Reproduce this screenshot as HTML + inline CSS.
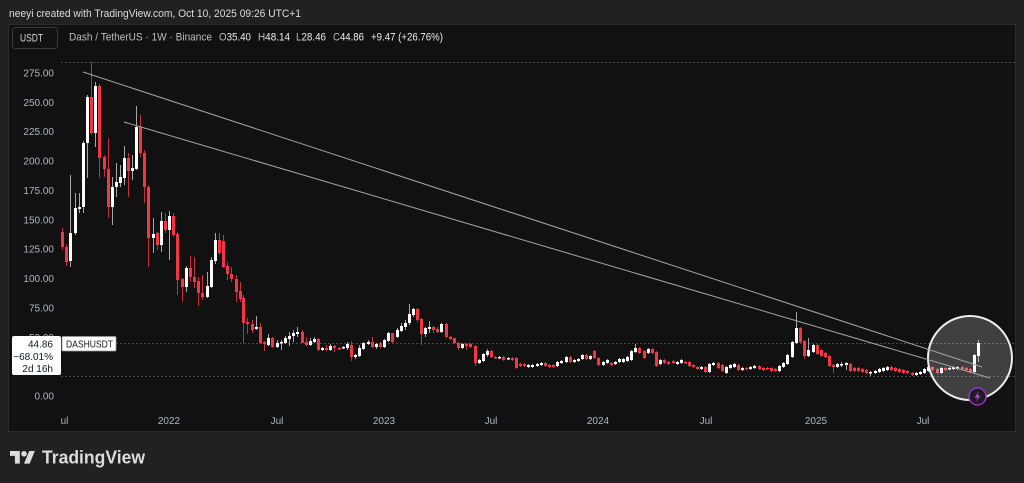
<!DOCTYPE html>
<html><head><meta charset="utf-8"><style>
html,body{margin:0;padding:0;background:#212121;width:1024px;height:483px;overflow:hidden}
svg{display:block;font-family:"Liberation Sans",Arial,sans-serif}
</style></head><body>
<svg width="1024" height="483" viewBox="0 0 1024 483" xmlns="http://www.w3.org/2000/svg">
<defs><clipPath id="ca"><rect x="61" y="25" width="954" height="406"/></clipPath></defs>
<rect x="0" y="0" width="1024" height="483" fill="#212121"/>
<text x="9" y="17" font-size="11" fill="#dcdcdc" textLength="292" lengthAdjust="spacingAndGlyphs">neeyi created with TradingView.com, Oct 10, 2025 09:26 UTC+1</text>
<rect x="8.5" y="24.5" width="1007" height="407" fill="#111111" stroke="#2b2b2b"/>
<rect x="12.5" y="27.5" width="45" height="21" rx="3" fill="none" stroke="#3a3a3a"/>
<text x="20" y="41.5" font-size="11" fill="#d8d8d8" textLength="23" lengthAdjust="spacingAndGlyphs">USDT</text>
<text x="69" y="40.5" font-size="11" fill="#bdbdbd" textLength="143" lengthAdjust="spacingAndGlyphs">Dash / TetherUS · 1W · Binance</text>
<text x="219" y="40.5" font-size="11" fill="#ececec" textLength="32" lengthAdjust="spacingAndGlyphs"><tspan fill="#bdbdbd">O</tspan>35.40</text>
<text x="258" y="40.5" font-size="11" fill="#ececec" textLength="32" lengthAdjust="spacingAndGlyphs"><tspan fill="#bdbdbd">H</tspan>48.14</text>
<text x="296" y="40.5" font-size="11" fill="#ececec" textLength="30" lengthAdjust="spacingAndGlyphs"><tspan fill="#bdbdbd">L</tspan>28.46</text>
<text x="333" y="40.5" font-size="11" fill="#ececec" textLength="31" lengthAdjust="spacingAndGlyphs"><tspan fill="#bdbdbd">C</tspan>44.86</text>
<text x="371" y="40.5" font-size="11" fill="#ececec" textLength="72" lengthAdjust="spacingAndGlyphs">+9.47 (+26.76%)</text>

<!-- y axis labels -->
<g font-size="10" fill="#b2b5be" text-anchor="end">
<text x="54" y="76.5">275.00</text>
<text x="54" y="106">250.00</text>
<text x="54" y="135">225.00</text>
<text x="54" y="164.5">200.00</text>
<text x="54" y="194">175.00</text>
<text x="54" y="223.3">150.00</text>
<text x="54" y="252.7">125.00</text>
<text x="54" y="282">100.00</text>
<text x="54" y="311.4">75.00</text>
<text x="54" y="340.8">50.00</text>
<text x="54" y="399.5">0.00</text>
</g>

<!-- x axis labels -->
<g font-size="10" fill="#b2b5be" text-anchor="middle" clip-path="url(#ca)">
<text x="62" y="424">Jul</text>
<text x="169" y="424">2022</text>
<text x="277" y="424">Jul</text>
<text x="384" y="424">2023</text>
<text x="491" y="424">Jul</text>
<text x="598" y="424">2024</text>
<text x="706" y="424">Jul</text>
<text x="816" y="424">2025</text>
<text x="923" y="424">Jul</text>
</g>

<!-- dotted lines -->
<g stroke="#4a4a4a" stroke-width="1" stroke-dasharray="2 2">
<line x1="61" y1="62.5" x2="1015" y2="62.5"/>
<line x1="116" y1="343.5" x2="1015" y2="343.5"/>
<line x1="61" y1="376.5" x2="1015" y2="376.5"/>
</g>

<!-- red wicks -->
<g fill="#c4303d">
<rect x="62" y="228" width="1" height="22"/><rect x="66" y="244" width="1" height="22"/><rect x="91" y="62" width="1" height="73"/><rect x="99" y="84" width="1" height="94"/><rect x="104" y="155" width="1" height="22"/><rect x="108" y="138" width="1" height="80"/><rect x="128" y="153" width="1" height="44"/><rect x="140" y="115" width="1" height="42"/><rect x="144" y="150" width="1" height="53"/><rect x="148" y="185" width="1" height="82"/><rect x="157" y="232" width="1" height="18"/><rect x="165" y="213" width="1" height="20"/><rect x="173" y="213" width="1" height="24"/><rect x="177" y="232" width="1" height="63"/><rect x="182" y="278" width="1" height="24"/><rect x="190" y="256" width="1" height="26"/><rect x="194" y="257" width="1" height="31"/><rect x="198" y="277" width="1" height="29"/><rect x="202" y="275" width="1" height="25"/><rect x="219" y="233" width="1" height="22"/><rect x="223" y="235" width="1" height="33"/><rect x="227" y="262" width="1" height="18"/><rect x="231" y="267" width="1" height="15"/><rect x="236" y="275" width="1" height="27"/><rect x="240" y="282" width="1" height="20"/><rect x="243" y="295" width="1" height="48"/><rect x="247" y="318" width="1" height="16"/><rect x="252" y="320" width="1" height="13"/><rect x="260" y="323" width="1" height="21"/><rect x="264" y="341" width="1" height="10"/><rect x="272" y="337" width="1" height="11"/><rect x="302" y="330" width="1" height="13"/><rect x="306" y="337" width="1" height="9"/><rect x="318" y="338" width="1" height="13"/><rect x="326" y="345" width="1" height="6"/><rect x="334" y="345" width="1" height="7"/><rect x="339" y="347" width="1" height="3"/><rect x="351" y="341" width="1" height="20"/><rect x="372" y="337" width="1" height="11"/><rect x="380" y="342" width="1" height="6"/><rect x="392" y="333" width="1" height="10"/><rect x="417" y="308" width="1" height="14"/><rect x="421" y="318" width="1" height="27"/><rect x="433" y="326" width="1" height="7"/><rect x="437" y="327" width="1" height="6"/><rect x="446" y="323" width="1" height="15"/><rect x="450" y="336" width="1" height="4"/><rect x="454" y="338" width="1" height="6"/><rect x="458" y="342" width="1" height="8"/><rect x="466" y="343" width="1" height="7"/><rect x="470" y="343" width="1" height="5"/><rect x="475" y="345" width="1" height="21"/><rect x="491" y="350" width="1" height="8"/><rect x="495" y="356" width="1" height="3"/><rect x="503" y="356" width="1" height="5"/><rect x="512" y="357" width="1" height="4"/><rect x="516" y="357" width="1" height="12"/><rect x="520" y="363" width="1" height="4"/><rect x="524" y="363" width="1" height="4"/><rect x="545" y="362" width="1" height="5"/><rect x="549" y="364" width="1" height="4"/><rect x="553" y="364" width="1" height="4"/><rect x="570" y="356" width="1" height="7"/><rect x="586" y="354" width="1" height="6"/><rect x="594" y="350" width="1" height="9"/><rect x="598" y="357" width="1" height="9"/><rect x="611" y="362" width="1" height="4"/><rect x="639" y="347" width="1" height="7"/><rect x="644" y="350" width="1" height="9"/><rect x="652" y="348" width="1" height="6"/><rect x="656" y="351" width="1" height="16"/><rect x="664" y="359" width="1" height="5"/><rect x="668" y="361" width="1" height="4"/><rect x="673" y="360" width="1" height="4"/><rect x="685" y="361" width="1" height="3"/><rect x="689" y="361" width="1" height="6"/><rect x="693" y="364" width="1" height="4"/><rect x="697" y="366" width="1" height="4"/><rect x="705" y="366" width="1" height="7"/><rect x="718" y="362" width="1" height="7"/><rect x="722" y="364" width="1" height="8"/><rect x="738" y="364" width="1" height="7"/><rect x="746" y="367" width="1" height="3"/><rect x="759" y="365" width="1" height="5"/><rect x="763" y="367" width="1" height="4"/><rect x="767" y="367" width="1" height="3"/><rect x="771" y="367" width="1" height="5"/><rect x="775" y="368" width="1" height="4"/><rect x="800" y="327" width="1" height="16"/><rect x="804" y="340" width="1" height="19"/><rect x="817" y="344" width="1" height="11"/><rect x="821" y="349" width="1" height="8"/><rect x="825" y="352" width="1" height="6"/><rect x="829" y="355" width="1" height="12"/><rect x="833" y="364" width="1" height="9"/><rect x="850" y="363" width="1" height="9"/><rect x="854" y="367" width="1" height="5"/><rect x="858" y="367" width="1" height="5"/><rect x="862" y="368" width="1" height="5"/><rect x="866" y="369" width="1" height="5"/><rect x="891" y="366" width="1" height="5"/><rect x="895" y="367" width="1" height="5"/><rect x="899" y="368" width="1" height="5"/><rect x="903" y="369" width="1" height="5"/><rect x="907" y="370" width="1" height="4"/><rect x="912" y="372" width="1" height="4"/><rect x="932" y="366" width="1" height="5"/><rect x="937" y="368" width="1" height="6"/><rect x="945" y="367" width="1" height="4"/><rect x="962" y="366" width="1" height="4"/><rect x="966" y="367" width="1" height="4"/><rect x="970" y="368" width="1" height="5"/>
</g>
<!-- white wicks -->
<g fill="#a8a8a8">
<rect x="70" y="175" width="1" height="92"/><rect x="75" y="193" width="1" height="42"/><rect x="79" y="193" width="1" height="20"/><rect x="83" y="141" width="1" height="72"/><rect x="87" y="95" width="1" height="83"/><rect x="95" y="82" width="1" height="65"/><rect x="112" y="177" width="1" height="48"/><rect x="116" y="163" width="1" height="34"/><rect x="120" y="165" width="1" height="22"/><rect x="124" y="146" width="1" height="39"/><rect x="132" y="155" width="1" height="25"/><rect x="136" y="106" width="1" height="64"/><rect x="153" y="218" width="1" height="35"/><rect x="161" y="212" width="1" height="40"/><rect x="169" y="211" width="1" height="49"/><rect x="186" y="266" width="1" height="26"/><rect x="207" y="272" width="1" height="26"/><rect x="211" y="257" width="1" height="31"/><rect x="215" y="233" width="1" height="31"/><rect x="256" y="316" width="1" height="14"/><rect x="268" y="334" width="1" height="12"/><rect x="277" y="340" width="1" height="8"/><rect x="281" y="340" width="1" height="10"/><rect x="285" y="336" width="1" height="8"/><rect x="289" y="332" width="1" height="14"/><rect x="293" y="330" width="1" height="12"/><rect x="297" y="327" width="1" height="10"/><rect x="310" y="338" width="1" height="8"/><rect x="314" y="337" width="1" height="6"/><rect x="322" y="347" width="1" height="4"/><rect x="330" y="344" width="1" height="7"/><rect x="343" y="346" width="1" height="3"/><rect x="347" y="342" width="1" height="8"/><rect x="355" y="354" width="1" height="5"/><rect x="359" y="345" width="1" height="12"/><rect x="363" y="342" width="1" height="8"/><rect x="368" y="340" width="1" height="5"/><rect x="376" y="343" width="1" height="6"/><rect x="384" y="339" width="1" height="9"/><rect x="388" y="332" width="1" height="10"/><rect x="397" y="328" width="1" height="10"/><rect x="401" y="323" width="1" height="9"/><rect x="405" y="320" width="1" height="10"/><rect x="409" y="304" width="1" height="21"/><rect x="413" y="308" width="1" height="9"/><rect x="425" y="327" width="1" height="10"/><rect x="429" y="321" width="1" height="12"/><rect x="441" y="323" width="1" height="10"/><rect x="462" y="343" width="1" height="6"/><rect x="479" y="359" width="1" height="5"/><rect x="483" y="353" width="1" height="9"/><rect x="487" y="349" width="1" height="8"/><rect x="499" y="356" width="1" height="3"/><rect x="508" y="357" width="1" height="3"/><rect x="528" y="364" width="1" height="4"/><rect x="532" y="364" width="1" height="4"/><rect x="537" y="363" width="1" height="4"/><rect x="541" y="362" width="1" height="4"/><rect x="557" y="361" width="1" height="6"/><rect x="561" y="360" width="1" height="4"/><rect x="566" y="356" width="1" height="7"/><rect x="574" y="359" width="1" height="4"/><rect x="578" y="358" width="1" height="4"/><rect x="582" y="354" width="1" height="6"/><rect x="590" y="355" width="1" height="5"/><rect x="603" y="361" width="1" height="5"/><rect x="607" y="359" width="1" height="5"/><rect x="615" y="361" width="1" height="4"/><rect x="619" y="358" width="1" height="5"/><rect x="623" y="358" width="1" height="5"/><rect x="627" y="356" width="1" height="6"/><rect x="631" y="350" width="1" height="11"/><rect x="635" y="344" width="1" height="9"/><rect x="648" y="348" width="1" height="6"/><rect x="660" y="359" width="1" height="6"/><rect x="677" y="361" width="1" height="4"/><rect x="681" y="359" width="1" height="5"/><rect x="701" y="366" width="1" height="4"/><rect x="709" y="363" width="1" height="10"/><rect x="713" y="362" width="1" height="4"/><rect x="726" y="366" width="1" height="8"/><rect x="730" y="364" width="1" height="5"/><rect x="734" y="363" width="1" height="5"/><rect x="742" y="367" width="1" height="4"/><rect x="750" y="366" width="1" height="4"/><rect x="754" y="365" width="1" height="4"/><rect x="779" y="365" width="1" height="7"/><rect x="783" y="362" width="1" height="6"/><rect x="787" y="354" width="1" height="11"/><rect x="792" y="341" width="1" height="17"/><rect x="796" y="312" width="1" height="32"/><rect x="808" y="338" width="1" height="19"/><rect x="813" y="344" width="1" height="9"/><rect x="837" y="363" width="1" height="5"/><rect x="841" y="362" width="1" height="5"/><rect x="846" y="362" width="1" height="8"/><rect x="870" y="371" width="1" height="5"/><rect x="875" y="370" width="1" height="4"/><rect x="879" y="368" width="1" height="5"/><rect x="883" y="367" width="1" height="5"/><rect x="887" y="366" width="1" height="5"/><rect x="916" y="372" width="1" height="4"/><rect x="920" y="371" width="1" height="4"/><rect x="924" y="368" width="1" height="6"/><rect x="928" y="366" width="1" height="6"/><rect x="941" y="367" width="1" height="7"/><rect x="949" y="367" width="1" height="3"/><rect x="953" y="366" width="1" height="4"/><rect x="957" y="366" width="1" height="4"/><rect x="974" y="354" width="1" height="19"/><rect x="978" y="340" width="1" height="22"/>
</g>
<!-- red bodies -->
<g fill="#f23645">
<rect x="61" y="232" width="3" height="15"/><rect x="65" y="247" width="3" height="15"/><rect x="90" y="97" width="3" height="36"/><rect x="98" y="86" width="3" height="72"/><rect x="103" y="157" width="3" height="12"/><rect x="107" y="169" width="3" height="38"/><rect x="127" y="158" width="3" height="13"/><rect x="139" y="127" width="3" height="26"/><rect x="143" y="153" width="3" height="34"/><rect x="147" y="187" width="3" height="51"/><rect x="156" y="233" width="3" height="12"/><rect x="164" y="221" width="3" height="9"/><rect x="172" y="216" width="3" height="19"/><rect x="176" y="234" width="3" height="46"/><rect x="181" y="279" width="3" height="8"/><rect x="189" y="268" width="3" height="9"/><rect x="193" y="277" width="3" height="5"/><rect x="197" y="281" width="3" height="12"/><rect x="201" y="293" width="3" height="4"/><rect x="218" y="240" width="3" height="13"/><rect x="222" y="241" width="3" height="26"/><rect x="226" y="266" width="3" height="8"/><rect x="230" y="274" width="3" height="5"/><rect x="235" y="279" width="3" height="13"/><rect x="239" y="291" width="3" height="8"/><rect x="242" y="298" width="3" height="25"/><rect x="246" y="322" width="3" height="2"/><rect x="251" y="324" width="3" height="6"/><rect x="259" y="327" width="3" height="16"/><rect x="263" y="342" width="3" height="2"/><rect x="271" y="338" width="3" height="9"/><rect x="301" y="332" width="3" height="11"/><rect x="305" y="342" width="3" height="3"/><rect x="317" y="339" width="3" height="11"/><rect x="325" y="348" width="3" height="2"/><rect x="333" y="346" width="3" height="2"/><rect x="338" y="348" width="3" height="1.5"/><rect x="350" y="345" width="3" height="12"/><rect x="371" y="342" width="3" height="5"/><rect x="379" y="343" width="3" height="4"/><rect x="391" y="333" width="3" height="9"/><rect x="416" y="309" width="3" height="11"/><rect x="420" y="319" width="3" height="15"/><rect x="432" y="327" width="3" height="3"/><rect x="436" y="329" width="3" height="3"/><rect x="445" y="324" width="3" height="13"/><rect x="449" y="337" width="3" height="2"/><rect x="453" y="338" width="3" height="5"/><rect x="457" y="343" width="3" height="5"/><rect x="465" y="344" width="3" height="2"/><rect x="469" y="344" width="3" height="3"/><rect x="474" y="346" width="3" height="17"/><rect x="490" y="351" width="3" height="6"/><rect x="494" y="357" width="3" height="1.5"/><rect x="502" y="357" width="3" height="3"/><rect x="511" y="358" width="3" height="2"/><rect x="515" y="358" width="3" height="10"/><rect x="519" y="364" width="3" height="2"/><rect x="523" y="364" width="3" height="2"/><rect x="544" y="363" width="3" height="3"/><rect x="548" y="365" width="3" height="2"/><rect x="552" y="365" width="3" height="2"/><rect x="569" y="357" width="3" height="5"/><rect x="585" y="355" width="3" height="4"/><rect x="593" y="351" width="3" height="7"/><rect x="597" y="358" width="3" height="7"/><rect x="610" y="363" width="3" height="2"/><rect x="638" y="348" width="3" height="5"/><rect x="643" y="351" width="3" height="7"/><rect x="651" y="349" width="3" height="4"/><rect x="655" y="352" width="3" height="14"/><rect x="663" y="360" width="3" height="3"/><rect x="667" y="362" width="3" height="2"/><rect x="672" y="361" width="3" height="2"/><rect x="684" y="362" width="3" height="1.5"/><rect x="688" y="362" width="3" height="4"/><rect x="692" y="365" width="3" height="2"/><rect x="696" y="367" width="3" height="2"/><rect x="704" y="367" width="3" height="5"/><rect x="717" y="363" width="3" height="5"/><rect x="721" y="365" width="3" height="6"/><rect x="737" y="365" width="3" height="5"/><rect x="745" y="368" width="3" height="1.5"/><rect x="758" y="366" width="3" height="3"/><rect x="762" y="368" width="3" height="2"/><rect x="766" y="368" width="3" height="1.5"/><rect x="770" y="368" width="3" height="3"/><rect x="774" y="369" width="3" height="2"/><rect x="799" y="328" width="3" height="14"/><rect x="803" y="341" width="3" height="15"/><rect x="816" y="345" width="3" height="9"/><rect x="820" y="350" width="3" height="6"/><rect x="824" y="353" width="3" height="4"/><rect x="828" y="356" width="3" height="10"/><rect x="832" y="365" width="3" height="2"/><rect x="849" y="364" width="3" height="7"/><rect x="853" y="368" width="3" height="3"/><rect x="857" y="368" width="3" height="3"/><rect x="861" y="369" width="3" height="3"/><rect x="865" y="370" width="3" height="3"/><rect x="890" y="367" width="3" height="3"/><rect x="894" y="368" width="3" height="3"/><rect x="898" y="369" width="3" height="3"/><rect x="902" y="370" width="3" height="3"/><rect x="906" y="371" width="3" height="2"/><rect x="911" y="373" width="3" height="2"/><rect x="931" y="367" width="3" height="3"/><rect x="936" y="369" width="3" height="4"/><rect x="944" y="368" width="3" height="2"/><rect x="961" y="367" width="3" height="2"/><rect x="965" y="368" width="3" height="2"/><rect x="969" y="369" width="3" height="3"/>
</g>
<!-- white bodies -->
<g fill="#ffffff">
<rect x="69" y="233" width="3" height="28"/><rect x="74" y="208" width="3" height="25"/><rect x="78" y="207" width="3" height="2"/><rect x="82" y="143" width="3" height="64"/><rect x="86" y="97" width="3" height="46"/><rect x="94" y="86" width="3" height="47"/><rect x="111" y="187" width="3" height="20"/><rect x="115" y="182" width="3" height="5"/><rect x="119" y="177" width="3" height="6"/><rect x="123" y="158" width="3" height="20"/><rect x="131" y="168" width="3" height="3"/><rect x="135" y="127" width="3" height="42"/><rect x="152" y="234" width="3" height="4"/><rect x="160" y="221" width="3" height="24"/><rect x="168" y="216" width="3" height="14"/><rect x="185" y="268" width="3" height="19"/><rect x="206" y="286" width="3" height="11"/><rect x="210" y="260" width="3" height="27"/><rect x="214" y="240" width="3" height="21"/><rect x="255" y="327" width="3" height="2"/><rect x="267" y="338" width="3" height="7"/><rect x="276" y="343" width="3" height="4"/><rect x="280" y="342" width="3" height="1.5"/><rect x="284" y="338" width="3" height="5"/><rect x="288" y="336" width="3" height="3"/><rect x="292" y="333" width="3" height="3"/><rect x="296" y="332" width="3" height="2"/><rect x="309" y="341" width="3" height="4"/><rect x="313" y="339" width="3" height="3"/><rect x="321" y="348" width="3" height="2"/><rect x="329" y="346" width="3" height="4"/><rect x="342" y="347" width="3" height="1.5"/><rect x="346" y="344" width="3" height="4"/><rect x="354" y="355" width="3" height="2"/><rect x="358" y="348" width="3" height="8"/><rect x="362" y="343" width="3" height="6"/><rect x="367" y="342" width="3" height="2"/><rect x="375" y="344" width="3" height="3"/><rect x="383" y="340" width="3" height="7"/><rect x="387" y="333" width="3" height="8"/><rect x="396" y="330" width="3" height="7"/><rect x="400" y="326" width="3" height="5"/><rect x="404" y="323" width="3" height="4"/><rect x="408" y="314" width="3" height="9"/><rect x="412" y="309" width="3" height="6"/><rect x="424" y="328" width="3" height="6"/><rect x="428" y="327" width="3" height="2"/><rect x="440" y="324" width="3" height="8"/><rect x="461" y="344" width="3" height="4"/><rect x="478" y="360" width="3" height="3"/><rect x="482" y="354" width="3" height="7"/><rect x="486" y="351" width="3" height="4"/><rect x="498" y="357" width="3" height="1.5"/><rect x="507" y="358" width="3" height="1.5"/><rect x="527" y="365" width="3" height="2"/><rect x="531" y="365" width="3" height="2"/><rect x="536" y="364" width="3" height="2"/><rect x="540" y="363" width="3" height="2"/><rect x="556" y="362" width="3" height="4"/><rect x="560" y="361" width="3" height="2"/><rect x="565" y="357" width="3" height="5"/><rect x="573" y="360" width="3" height="2"/><rect x="577" y="359" width="3" height="2"/><rect x="581" y="355" width="3" height="4"/><rect x="589" y="356" width="3" height="3"/><rect x="602" y="362" width="3" height="3"/><rect x="606" y="360" width="3" height="3"/><rect x="614" y="362" width="3" height="2"/><rect x="618" y="359" width="3" height="3"/><rect x="622" y="359" width="3" height="3"/><rect x="626" y="357" width="3" height="4"/><rect x="630" y="351" width="3" height="9"/><rect x="634" y="348" width="3" height="4"/><rect x="647" y="349" width="3" height="4"/><rect x="659" y="360" width="3" height="4"/><rect x="676" y="362" width="3" height="2"/><rect x="680" y="360" width="3" height="3"/><rect x="700" y="367" width="3" height="2"/><rect x="708" y="364" width="3" height="8"/><rect x="712" y="363" width="3" height="2"/><rect x="725" y="367" width="3" height="6"/><rect x="729" y="365" width="3" height="3"/><rect x="733" y="364" width="3" height="3"/><rect x="741" y="368" width="3" height="2"/><rect x="749" y="367" width="3" height="2"/><rect x="753" y="366" width="3" height="2"/><rect x="778" y="366" width="3" height="5"/><rect x="782" y="363" width="3" height="4"/><rect x="786" y="355" width="3" height="9"/><rect x="791" y="342" width="3" height="15"/><rect x="795" y="328" width="3" height="15"/><rect x="807" y="350" width="3" height="6"/><rect x="812" y="345" width="3" height="7"/><rect x="836" y="364" width="3" height="3"/><rect x="840" y="364" width="3" height="1.5"/><rect x="845" y="363" width="3" height="2"/><rect x="869" y="372" width="3" height="1.5"/><rect x="874" y="371" width="3" height="2"/><rect x="878" y="369" width="3" height="3"/><rect x="882" y="368" width="3" height="3"/><rect x="886" y="367" width="3" height="3"/><rect x="915" y="373" width="3" height="2"/><rect x="919" y="372" width="3" height="2"/><rect x="923" y="369" width="3" height="4"/><rect x="927" y="367" width="3" height="4"/><rect x="940" y="368" width="3" height="5"/><rect x="948" y="368" width="3" height="1.5"/><rect x="952" y="367" width="3" height="2"/><rect x="956" y="367" width="3" height="2"/><rect x="973" y="355" width="3" height="17"/><rect x="977" y="343" width="3" height="13"/>
</g>

<!-- highlight circle -->
<circle cx="970" cy="358" r="42" fill="rgba(255,255,255,0.2)" stroke="#eeeeee" stroke-width="2"/>

<!-- trend lines -->
<g stroke="#a6a6a6" stroke-width="1" fill="none">
<line x1="83" y1="72" x2="982" y2="367"/>
<line x1="124" y1="122" x2="990" y2="378"/>
</g>

<!-- lightning badge -->
<circle cx="977.5" cy="396.5" r="8.5" fill="#1e1a22" stroke="#9c2fc7" stroke-width="1.5"/>
<polygon points="979,391 974.5,397.5 977.5,397.5 976,402 980.5,395.5 977.5,395.5" fill="#b04ad6"/>

<!-- price label -->
<rect x="12" y="336" width="49" height="39" rx="2" fill="#ffffff"/>
<g font-size="10" fill="#131722" text-anchor="end">
<text x="53" y="347.5">44.86</text>
<text x="53" y="360">−68.01%</text>
<text x="53" y="372">2d 16h</text>
</g>
<rect x="62" y="336.5" width="54" height="14.5" rx="1" fill="#ffffff" stroke="#9a9a9a" stroke-width="0.8"/>
<text x="66" y="347.5" font-size="10" fill="#131722" textLength="47" lengthAdjust="spacingAndGlyphs">DASHUSDT</text>

<!-- footer logo -->
<g transform="translate(10,448.2) scale(0.7)" fill="#dcdcdc">
<path d="M14 22H7V11H0V4h14v18z"/>
<circle cx="20" cy="8" r="4"/>
<path d="M28 22h-8l7.5-18h8L28 22z"/>
</g>
<text x="42" y="463.5" font-size="18" font-weight="bold" fill="#dcdcdc" textLength="103" lengthAdjust="spacingAndGlyphs">TradingView</text>
</svg>
</body></html>
